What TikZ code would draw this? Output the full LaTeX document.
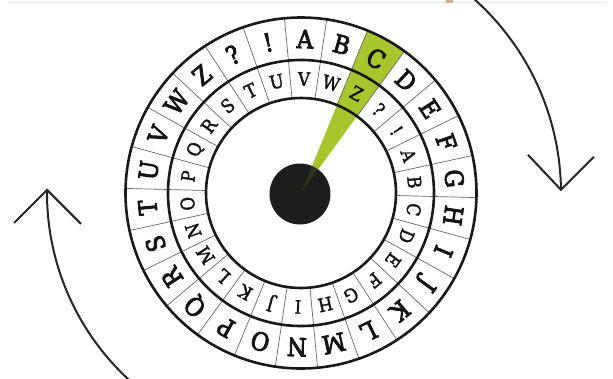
\documentclass[tikz,border=0pt]{standalone}
\usepackage{fontspec}
\setmainfont{DejaVu Serif}
\newfontfamily\wheelouterfont[FakeBold=3.5]{DejaVu Serif Condensed}
\newfontfamily\wheelinnerfont[FakeBold=2]{DejaVu Serif Condensed}
\definecolor{wedgegreen}{HTML}{A8C62C}
\definecolor{diskblack}{HTML}{1D1D1B}
\definecolor{topgray}{HTML}{E9E9E9}
\definecolor{tanmark}{HTML}{CDAF92}
\begin{document}
\begin{tikzpicture}[x=1pt,y=1pt,
  ringline/.style={line width=2.6pt, draw=black!90},
  divider/.style={line width=0.7pt, draw=black!60},
  outerletter/.style={font=\fontsize{25}{25}\wheelouterfont, inner sep=0pt, text=black!92},
  innerletter/.style={font=\fontsize{18.5}{18.5}\wheelinnerfont, inner sep=0pt, text=black!92},
  turnline/.style={line width=2pt, draw=black!85}]
\useasboundingbox (-301,-185) rectangle (312,193);
\clip (-301,-185) rectangle (312,193);
% top strip of the screenshot
\draw[topgray, line width=1.5pt] (-293,190.5) -- (304,190.5);
\fill[tanmark] (145,190) rectangle (152,193);
% green pointer wedge
\fill[wedgegreen] (0,0) -- (67.72:175.5) arc[start angle=67.72, end angle=53.88, radius=175.5] -- cycle;
% dividers
\foreach \i in {0,...,25} {
  \pgfmathsetmacro\ang{95.42-\i*360/26}
  \draw[divider] (\ang:95) -- (\ang:175.5);
}
% rings
\draw[ringline] (0,0) circle[radius=175.5];
\draw[ringline] (0,0) circle[radius=133];
\draw[ringline] (0,0) circle[radius=95];
% letters
\foreach \l [count=\i from 0] in {A,B,C,D,E,F,G,H,I,J,K,L,M,N,O,P,Q,R,S,T,U,V,W,Z,?,!} {
  \pgfmathsetmacro\ang{88.5-\i*360/26}
  \node[outerletter, rotate=\ang-90] (o\i) at (\ang:154) {\l};
}
\foreach \l [count=\i from 0] in {V,W,Z,?,!,A,B,C,D,E,F,G,H,I,J,K,L,M,N,O,P,Q,R,S,T,U} {
  \pgfmathsetmacro\ang{88.5-\i*360/26}
  \node[innerletter, rotate=\ang-90] (n\i) at (\ang:114) {\l};
}
% centre disk with faint green tint of the wedge
\fill[diskblack] (-1,-1) circle[radius=30.5];
\begin{scope}
  \clip (-1,-1) circle[radius=30.5];
  \fill[wedgegreen, opacity=0.12] (0,0) -- (67.72:40) arc[start angle=67.72, end angle=53.88, radius=40] -- cycle;
\end{scope}
% turning arrows
\coordinate (rtip) at (0.7:260);
\coordinate (ltip) at (179.3:254);
\draw[turnline] (rtip) arc[start angle=0.7, end angle=50, radius=260];
\draw[turnline] (rtip) ++(-33,35) -- (rtip) -- ++(33,33);
\draw[turnline] (ltip) arc[start angle=179.3, end angle=230, radius=254];
\draw[turnline] (ltip) ++(-33,-33) -- (ltip) -- ++(34,-34);
\end{tikzpicture}
\end{document}
